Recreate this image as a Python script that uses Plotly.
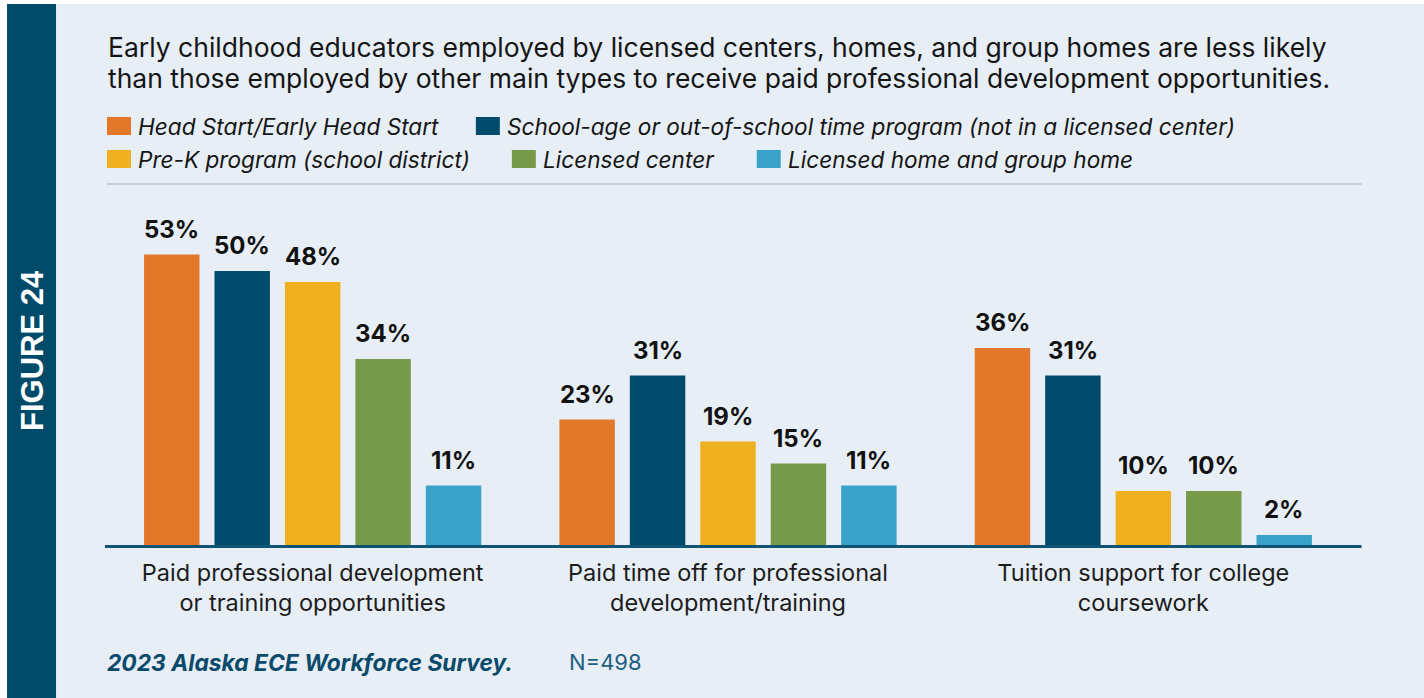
import plotly.graph_objects as go

# ---------------- data ----------------
categories = ["Paid professional development<br>or training opportunities",
              "Paid time off for professional<br>development/training",
              "Tuition support for college<br>coursework"]
series_names = ["Head Start/Early Head Start",
                "School-age or out-of-school time program (not in a licensed center)",
                "Pre-K program (school district)",
                "Licensed center",
                "Licensed home and group home"]
head_start = [53, 23, 36]
school_age = [50, 31, 31]
pre_k = [48, 19, 10]
licensed_center = [34, 15, 10]
licensed_home = [11, 11, 2]
series_values = [head_start, school_age, pre_k, licensed_center, licensed_home]
colors = ["#e3782a", "#004b6b", "#f0b120", "#769a49", "#38a2c9"]

title_lines = ["Early childhood educators employed by licensed centers, homes, and group homes are less likely",
               "than those employed by other main types to receive paid professional development opportunities."]
source_text = "2023 Alaska ECE Workforce Survey."
n_text = "N=498"
figure_label = "FIGURE 24"

# ---------------- layout geometry ----------------
OX, OY = 7, 4                      # page offset of the figure (body margin)
W, H = 1424 - OX, 698 - OY
L, R, T, B = 105, 1351.5, 216, 546  # plot area in page pixels
PW, PH = R - L, B - T
BARGAP, GROUPGAP = 0.152, 0.213

def px(x):
    return (x - L) / PW

def py(y):
    return (B - y) / PH

FONT = "Inter, Noto Sans, sans-serif"

fig = go.Figure()
x_idx = list(range(len(categories)))
for name, vals, col in zip(series_names, series_values, colors):
    fig.add_trace(go.Bar(
        x=x_idx, y=vals, name=name, marker=dict(color=col, line=dict(width=0)),
        showlegend=False, hoverinfo="skip"))

shapes = []
annotations = []

# value labels above bars
n_series = len(series_names)
slot = (1 - BARGAP) / n_series
for j, vals in enumerate(series_values):
    for i, v in enumerate(vals):
        annotations.append(dict(text=f"<b>{v}%</b>", xref="x", yref="y",
                                x=i + (j - (n_series - 1) / 2) * slot, y=v,
                                xanchor="center", yanchor="bottom", yshift=9, showarrow=False,
                                font=dict(family=FONT, size=24, color="#111111")))

# backgrounds
shapes.append(dict(type="rect", xref="paper", yref="paper", x0=px(56), x1=px(1430), y0=py(710), y1=py(OY),
                   fillcolor="#e7eef5", line=dict(width=0), layer="below"))
shapes.append(dict(type="rect", xref="paper", yref="paper", x0=px(OX), x1=px(56), y0=py(710), y1=py(OY),
                   fillcolor="#004a6a", line=dict(width=0), layer="below"))
# separator line under legend
shapes.append(dict(type="line", xref="paper", yref="paper", x0=px(107), x1=px(1362), y0=py(184), y1=py(184),
                   line=dict(color="#bccfdb", width=2)))
# baseline
shapes.append(dict(type="line", xref="paper", yref="paper", x0=px(105), x1=px(1362), y0=py(546.5), y1=py(546.5),
                   line=dict(color="#0f5473", width=3), layer="above"))

# title
for i, line in enumerate(title_lines):
    annotations.append(dict(text=line, xref="paper", yref="paper", x=px(106), y=py(47 + 31 * i),
                            xanchor="left", yanchor="middle", showarrow=False,
                            font=dict(family=FONT, size=26.5, color="#151515")))

# legend (manual, two rows)
legend_pos = [(107, 126), (476, 126), (107, 159), (512, 159), (757, 159)]
for (lx, ly), name, col in zip(legend_pos, series_names, colors):
    shapes.append(dict(type="rect", xref="paper", yref="paper", x0=px(lx), x1=px(lx + 24),
                       y0=py(ly + 9), y1=py(ly - 9), fillcolor=col, line=dict(width=0)))
    annotations.append(dict(text=f"<i>{name}</i>", xref="paper", yref="paper", x=px(lx + 29), y=py(ly),
                            xanchor="left", yanchor="middle", showarrow=False,
                            font=dict(family=FONT, size=22.6, color="#151515")))

# figure label
annotations.append(dict(text=f"<b>{figure_label}</b>", xref="paper", yref="paper", x=px(32), y=py(351),
                        xanchor="center", yanchor="middle", textangle=-90, showarrow=False,
                        font=dict(family="Liberation Sans, Arial, sans-serif", size=31, color="#ffffff")))

# footer
annotations.append(dict(text=f"<b><i>{source_text}</i></b>", xref="paper", yref="paper", x=px(105), y=py(662),
                        xanchor="left", yanchor="middle", showarrow=False,
                        font=dict(family=FONT, size=22.8, color="#0b4a6a")))
annotations.append(dict(text=n_text, xref="paper", yref="paper", x=px(567), y=py(662),
                        xanchor="left", yanchor="middle", showarrow=False,
                        font=dict(family=FONT, size=22, color="#1f5e80")))

fig.update_layout(
    width=W, height=H,
    margin=dict(l=L - OX, r=W - (R - OX), t=T - OY, b=H - (B - OY), pad=0),
    paper_bgcolor="#ffffff", plot_bgcolor="rgba(0,0,0,0)",
    barmode="group", bargap=BARGAP, bargroupgap=GROUPGAP,
    shapes=shapes, annotations=annotations,
    showlegend=False,
    xaxis=dict(tickmode="array", tickvals=x_idx, ticktext=categories, range=[-0.5, 2.5],
               showgrid=False, zeroline=False, showline=False, ticks="", ticklabelstandoff=10,
               tickfont=dict(family=FONT, size=23.5, color="#1c1c1c"), fixedrange=True),
    yaxis=dict(range=[0, 60], visible=False, fixedrange=True),
)

fig.write_html("out.html", config={"displayModeBar": False},
               post_script=f"document.body.style.margin='{OY}px 0 0 {OX}px';document.body.style.overflow='hidden';")
